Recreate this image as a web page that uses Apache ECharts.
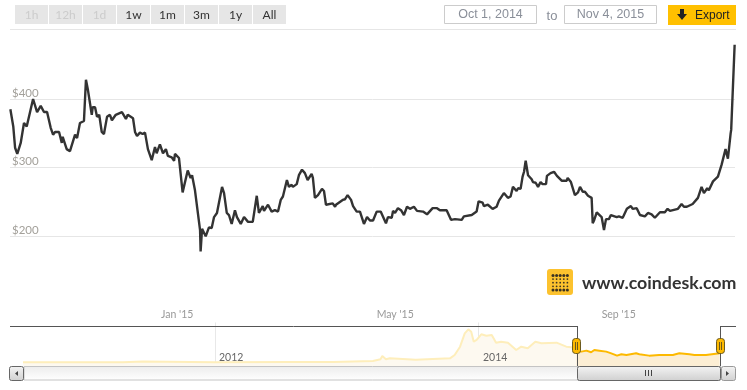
<!DOCTYPE html>
<html>
<head>
<meta charset="utf-8">
<title>Bitcoin price</title>
<style>
  html, body { margin: 0; padding: 0; background: #fff; }
  #chart { width: 747px; height: 390px; }
</style>
<script src="https://cdn.jsdelivr.net/npm/echarts@6/dist/echarts.min.js"></script>
</head>
<body>
<div id="chart"></div>
<script>
// main chart: days since Oct 1, 2014 and USD price
const dayOffsets = [
  0.2, 1.8, 2.8, 4.0, 5.9, 7.7, 9.2, 9.9, 12.7, 14.9, 16.9, 18.7, 20.4, 22.4, 23.7, 24.8, 27.0, 28.5, 29.0, 31.2,
  33.0, 35.8, 36.9, 38.5, 40.7, 41.8, 42.9, 45.0, 45.5, 46.8, 47.9, 49.1, 50.5, 51.7, 53.4, 55.0, 56.1, 58.2, 61.6, 63.8,
  64.8, 65.5, 67.7, 68.8, 69.9, 71.5, 73.0, 74.3, 75.9, 78.0, 79.8, 80.7, 82.5, 84.2, 85.8, 86.9, 89.0, 90.3, 90.8, 93.0,
  95.0, 97.8, 99.4, 100.2, 101.8, 102.9, 104.6, 104.9, 105.7, 107.7, 109.5, 111.0, 112.3, 113.9, 116.7, 117.8, 119.3, 120.5, 122.0, 123.8,
  124.9, 126.0, 127.0, 128.8, 131.0, 133.6, 135.8, 137.0, 138.0, 139.1, 139.8, 142.0, 144.0, 145.8, 147.5, 149.0, 150.2, 152.4, 153.5, 155.0,
  155.7, 157.8, 159.0, 160.7, 162.3, 163.8, 166.0, 166.7, 167.8, 169.5, 170.6, 171.7, 172.8, 173.9, 177.6, 178.9, 179.4, 180.5, 183.1, 184.4,
  185.8, 187.7, 188.8, 190.8, 192.6, 194.8, 196.5, 198.1, 199.8, 201.8, 204.0, 206.9, 208.0, 210.1, 210.8, 211.9, 213.5, 215.2, 216.8, 218.5,
  220.1, 222.3, 224.0, 227.3, 229.5, 232.6, 235.0, 236.6, 240.3, 242.7, 244.9, 248.6, 249.8, 254.1, 256.8, 257.9, 260.1, 260.8, 263.0, 265.6,
  267.8, 269.1, 271.8, 274.0, 275.5, 276.8, 278.8, 279.6, 281.0, 282.1, 282.9, 283.8, 285.1, 287.1, 287.8, 289.3, 290.6, 292.0, 293.1, 295.0,
  295.5, 297.5, 299.4, 301.0, 303.6, 306.4, 306.9, 308.7, 309.8, 310.9, 312.6, 313.7, 315.2, 316.4, 318.1, 320.1, 320.7, 321.4, 322.9, 325.6,
  326.9, 328.0, 329.6, 330.7, 333.9, 335.1, 337.2, 339.5, 341.7, 342.7, 344.9, 346.7, 349.4, 351.1, 353.1, 354.9, 357.7, 360.4, 361.9, 363.2,
  367.6, 369.6, 370.9, 372.5, 375.7, 378.6, 380.6, 381.9, 383.7, 384.6, 386.9, 389.6, 391.6, 393.8, 395.1, 396.6, 396.9, 398.8
]
const prices = [
  385, 360, 329, 320, 336, 365, 360, 360, 400, 381, 390, 381, 381, 358, 348, 352, 352, 336, 345, 327,
  324, 348, 343, 365, 368, 428, 413, 377, 388, 388, 374, 377, 352, 349, 374, 377, 369, 377, 381, 371,
  377, 377, 372, 352, 346, 351, 349, 351, 327, 311, 330, 321, 334, 321, 327, 317, 315, 310, 320, 314,
  264, 296, 285, 289, 267, 266, 209, 178, 211, 200, 213, 212, 228, 234, 272, 263, 234, 231, 218, 238,
  228, 228, 218, 228, 221, 221, 259, 234, 234, 244, 237, 246, 236, 238, 236, 253, 258, 282, 272, 275,
  272, 276, 289, 297, 292, 282, 291, 285, 256, 260, 259, 269, 266, 246, 248, 243, 246, 244, 253, 254,
  260, 253, 244, 236, 236, 218, 228, 223, 223, 236, 236, 219, 228, 227, 237, 234, 241, 238, 231, 243,
  240, 243, 237, 236, 232, 241, 241, 238, 238, 224, 225, 224, 229, 231, 236, 251, 249, 244, 246, 240,
  243, 252, 263, 256, 258, 272, 266, 270, 269, 287, 294, 310, 289, 283, 279, 278, 272, 279, 276, 276,
  288, 292, 294, 288, 281, 281, 285, 279, 278, 260, 264, 272, 265, 265, 259, 256, 219, 223, 235, 228,
  209, 225, 225, 231, 228, 229, 227, 240, 244, 240, 241, 231, 229, 234, 232, 227, 235, 235, 240, 237,
  240, 247, 243, 243, 247, 256, 272, 263, 270, 267, 280, 287, 304, 327, 313, 350, 355, 479
]
const mainTickDays = [92, 212, 335]
const mainTickLabels = ["Jan '15", "May '15", "Sep '15"]
const priceTicks = [200, 300, 400]

// navigator: whole history, then the selected range
const navDates = [
  '2010-07-17', '2011-04-20', '2011-06-15', '2012-01-01', '2012-08-01', '2012-11-25', '2013-03-15', '2013-04-05',
  '2013-04-10', '2013-04-20', '2013-05-01', '2013-07-12', '2013-10-15', '2013-10-28', '2013-11-12', '2013-11-25',
  '2013-12-05', '2013-12-13', '2013-12-20', '2013-12-28', '2014-01-10', '2014-01-24', '2014-02-08', '2014-02-20',
  '2014-03-06', '2014-03-25', '2014-04-17', '2014-05-01', '2014-05-19', '2014-06-09', '2014-06-26', '2014-08-07',
  '2014-09-03', '2014-10-01'
]
const navPrices = [
  6, 8, 30, 6, 12, 12, 47, 100,
  200, 100, 130, 88, 130, 234, 494, 912,
  1037, 962, 650, 703, 881, 837, 859, 619,
  650, 619, 390, 494, 444, 650, 600, 619,
  494, 462
]
const navSelDates = [
  '2014-10-01', '2014-10-15', '2014-10-29', '2014-11-11', '2014-11-20', '2014-12-04', '2014-12-23',
  '2015-01-06', '2015-01-22', '2015-02-03', '2015-02-17', '2015-03-16', '2015-03-25', '2015-04-21',
  '2015-05-19', '2015-06-26', '2015-07-14', '2015-08-11', '2015-08-25', '2015-09-26', '2015-11-03'
]
const navSelPrices = [
  390, 339, 370, 318, 390, 370, 339,
  286, 214, 255, 234, 286, 255, 214,
  234, 234, 286, 255, 234, 234, 286
]
const navTickDates = ['2012-01-01', '2014-01-01']
const navTickLabels = ['2012', '2014']

const rangeButtons = ['1h', '12h', '1d', '1w', '1m', '3m', '1y', 'All']
const disabledButtons = 3

const UI_FONT = 'Lato, "Open Sans", sans-serif'
const FORM_FONT = '"Liberation Sans", Arial, sans-serif'

const pairs = (xs, ys) => xs.map((x, i) => [x, ys[i]])
const toTime = d => Date.parse(d)

function rect(x, y, width, height, style, r) {
  return { type: 'rect', shape: { x, y, width, height, r: r || 0 }, style, silent: true }
}

function line(x1, y1, x2, y2, stroke, lineWidth) {
  return { type: 'line', shape: { x1, y1, x2, y2 }, style: { stroke, lineWidth: lineWidth || 1 }, silent: true }
}

function label(text, x, y, font, fill, align) {
  return {
    type: 'text',
    x, y,
    style: { text, font, fill, align: align || 'center', verticalAlign: 'middle' },
    silent: true
  }
}

function vGradient(top, bottom) {
  return new echarts.graphic.LinearGradient(0, 0, 0, 1, [
    { offset: 0, color: top },
    { offset: 1, color: bottom }
  ])
}

// range buttons, date boxes, export button
function headerGraphics() {
  const out = []
  rangeButtons.forEach((name, i) => {
    const x = 15 + i * 34
    out.push(rect(x, 5, 33, 19, { fill: '#e6e6e6' }))
    out.push(label(name, x + 16.5, 15, '12px ' + UI_FONT, i < disabledButtons ? '#cccccc' : '#333333'))
  })
  out.push(line(10, 29.5, 736, 29.5, '#e6e6e6'))
  out.push(rect(444.5, 5.5, 92, 18, { fill: '#fff', stroke: '#cccccc' }))
  out.push(label('Oct 1, 2014', 490.5, 15, '12.5px ' + FORM_FONT, '#8a8f99'))
  out.push(label('to', 552, 16, '13px ' + FORM_FONT, '#8a8f99'))
  out.push(rect(564.5, 5.5, 92, 18, { fill: '#fff', stroke: '#cccccc' }))
  out.push(label('Nov 4, 2015', 610.5, 15, '12.5px ' + FORM_FONT, '#8a8f99'))
  out.push(rect(668, 5, 68, 20, { fill: '#ffc000' }))
  out.push({
    type: 'polygon',
    shape: { points: [[680, 9], [684, 9], [684, 14], [687, 14], [682, 20], [677, 14], [680, 14]] },
    style: { fill: '#222222' },
    silent: true
  })
  out.push(label('Export', 695, 15.5, '12px ' + FORM_FONT, '#222222', 'left'))
  return out
}

function logoGraphics() {
  const out = [rect(547, 269, 26, 26, { fill: '#fcc22e' }, 3)]
  for (let row = 0; row < 5; row++) {
    for (let col = 0; col < 5; col++) {
      const edge = row === 0 || row === 4
      out.push({
        type: 'circle',
        shape: { cx: 553 + col * 3.6, cy: 275.5 + row * 3.6, r: edge ? 1.5 : 0.9 },
        style: { fill: '#3a3222' },
        silent: true
      })
    }
  }
  out.push(label('www.coindesk.com', 582, 283, 'bold 17.8px ' + UI_FONT, '#333333', 'left'))
  return out
}

// selection outline, handles and scrollbar under the navigator
function navigatorGraphics() {
  const out = []
  // year labels sit over the area fill, axis labels would be drawn under it
  out.push(label(navTickLabels[0], 219, 358, '10.5px ' + UI_FONT, '#666666', 'left'))
  out.push(label(navTickLabels[1], 483, 358, '10.5px ' + UI_FONT, '#666666', 'left'))

  out.push(line(10, 326.5, 577, 326.5, '#555555'))
  out.push(line(577.5, 326, 577.5, 366, '#555555'))
  out.push(line(720.5, 326, 720.5, 366, '#555555'))
  out.push(line(720, 326.5, 736, 326.5, '#555555'))

  out.push(rect(24, 366.5, 697, 13.5, { fill: vGradient('#ececec', '#ffffff'), stroke: '#c4c4c4' }))
  out.push(rect(9.5, 366.5, 14, 14, { fill: vGradient('#f4f4f4', '#d0d0d0'), stroke: '#666666' }, 2))
  out.push({
    type: 'polygon',
    shape: { points: [[18, 371], [18, 376], [15, 373.5]] },
    style: { fill: '#444444' },
    silent: true
  })
  out.push(rect(577.5, 366.5, 143, 14, { fill: vGradient('#f4f4f4', '#cfcfcf'), stroke: '#666666' }, 2))
  ;[645.5, 648.5, 651.5].forEach(x => out.push(line(x, 370, x, 376, '#444444')))
  out.push(rect(721.5, 366.5, 14, 14, { fill: vGradient('#f4f4f4', '#d0d0d0'), stroke: '#999999' }, 2))
  out.push({
    type: 'polygon',
    shape: { points: [[726, 371], [726, 376], [729, 373.5]] },
    style: { fill: '#444444' },
    silent: true
  })

  ;[576.5, 720.5].forEach(x => {
    out.push(rect(x - 4, 338.5, 8, 15, { fill: '#fdb900', stroke: '#6b5a1e' }, 3))
    out.push(line(x - 1, 342, x - 1, 350, '#6b5a1e'))
    out.push(line(x + 1, 342, x + 1, 350, '#6b5a1e'))
  })
  return out
}

const chart = echarts.init(document.getElementById('chart'))
const navTicks = navTickDates.map(toTime)

// graphics go above the series, otherwise the area fill hides them
const chrome = [...headerGraphics(), ...logoGraphics(), ...navigatorGraphics()].map(el => ({ ...el, z: 10 }))

chart.setOption({
  animation: false,
  backgroundColor: '#ffffff',
  grid: [
    { left: 10, top: 30.35, width: 725, height: 274.6 },
    { left: 23, top: 326, width: 697, height: 40 }
  ],
  xAxis: [
    {
      type: 'value',
      gridIndex: 0,
      min: 0,
      max: 399,
      axisLine: { show: false },
      axisTick: { show: false },
      splitLine: { show: false },
      axisLabel: {
        customValues: mainTickDays,
        formatter: v => mainTickLabels[mainTickDays.indexOf(v)],
        color: '#999999',
        fontFamily: UI_FONT,
        fontSize: 10.5,
        margin: 4
      }
    },
    {
      // timestamps on a value axis, only the two year marks are shown
      type: 'value',
      gridIndex: 1,
      min: toTime('2010-07-17'),
      max: toTime('2015-11-04'),
      axisLine: { show: false },
      splitLine: { show: false },
      axisLabel: { show: false },
      axisTick: {
        inside: true,
        length: 40,
        customValues: navTicks,
        lineStyle: { color: '#e8e8e8' }
      }
    }
  ],
  yAxis: [
    {
      type: 'value',
      gridIndex: 0,
      min: 100,
      max: 500,
      interval: 100,
      axisLine: { show: false },
      axisTick: { show: false },
      splitLine: {
        showMinLine: false,
        showMaxLine: false,
        lineStyle: { color: '#e6e6e6', width: 1 }
      },
      axisLabel: {
        inside: true,
        customValues: priceTicks,
        formatter: '${value}',
        verticalAlign: 'bottom',
        margin: 2,
        color: '#a3a09a',
        fontFamily: UI_FONT,
        fontSize: 11.5
      }
    },
    {
      type: 'value',
      gridIndex: 1,
      show: false,
      min: -110,
      max: 1140
    }
  ],
  series: [
    {
      name: 'Price',
      type: 'line',
      xAxisIndex: 0,
      yAxisIndex: 0,
      data: pairs(dayOffsets, prices),
      showSymbol: false,
      silent: true,
      lineStyle: { color: '#333333', width: 2.4 }
    },
    {
      name: 'History',
      type: 'line',
      xAxisIndex: 1,
      yAxisIndex: 1,
      data: pairs(navDates.map(toTime), navPrices),
      showSymbol: false,
      silent: true,
      lineStyle: { color: '#feeebb', width: 2 },
      areaStyle: { color: '#fdf9f0', opacity: 1, origin: 'start' }
    },
    {
      name: 'Selected',
      type: 'line',
      xAxisIndex: 1,
      yAxisIndex: 1,
      data: pairs(navSelDates.map(toTime), navSelPrices),
      showSymbol: false,
      silent: true,
      lineStyle: { color: '#fdb900', width: 2 },
      areaStyle: { color: '#fceed4', opacity: 1, origin: 'start' }
    }
  ],
  graphic: { elements: chrome }
})
</script>
</body>
</html>
